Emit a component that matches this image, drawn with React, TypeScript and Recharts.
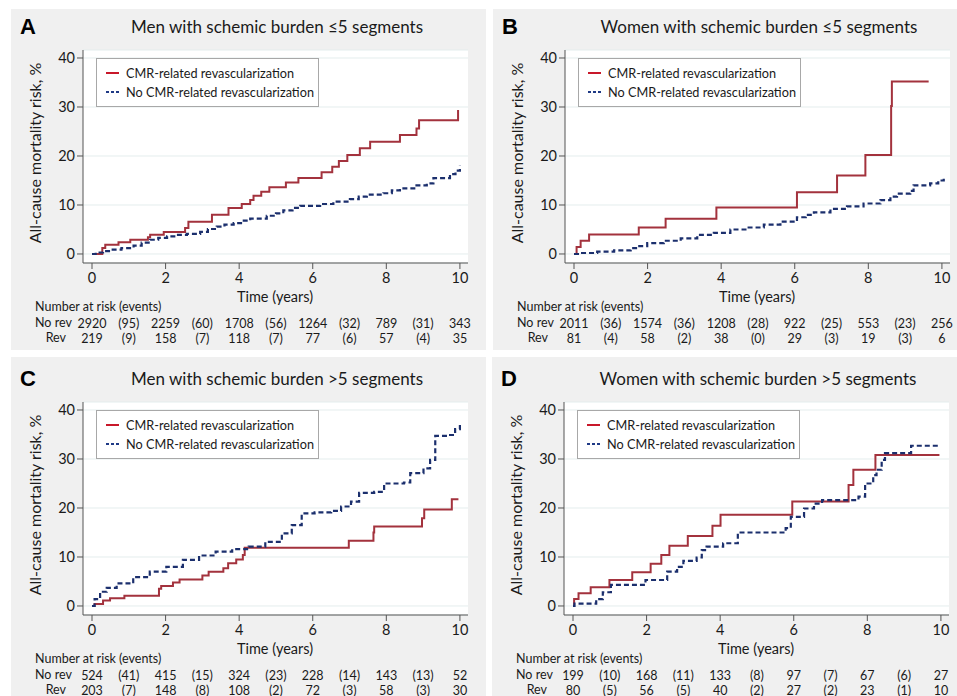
import React from 'react';
import { LineChart, Line, XAxis, YAxis, CartesianGrid, Legend } from 'recharts';

const FONT = 'Lato, "Open Sans", sans-serif';
const RED = '#a3323d';
const BLUE = '#1b2f6d';
const TEXT = '#1a1a1a';

// [years, cumulative mortality %]
const cmrA = [[0, 0], [0.28, 1.2], [0.36, 1.9], [0.72, 2.4], [1.04, 2.9], [1.52, 3.4], [1.58, 3.9], [1.95, 4.5], [2.53, 5.3], [2.62, 6.6], [3.26, 8.0], [3.71, 9.4], [4.07, 10.2], [4.3, 11.0], [4.39, 11.9], [4.6, 12.7], [4.82, 13.6], [5.27, 14.6], [5.61, 15.5], [6.24, 16.7], [6.53, 17.8], [6.71, 19.0], [6.94, 20.2], [7.28, 21.6], [7.56, 22.9], [8.37, 24.3], [8.82, 25.6], [8.89, 27.3], [9.95, 29.4]];
const noCmrA = [[0, 0], [0.1, 0.3], [0.3, 0.6], [0.5, 0.9], [0.8, 1.2], [1.13, 1.7], [1.35, 2.3], [1.58, 2.9], [1.8, 3.3], [2.04, 3.6], [2.3, 3.9], [2.58, 4.1], [2.94, 4.5], [3.15, 5.1], [3.39, 5.6], [3.6, 6.0], [3.85, 6.3], [4.05, 6.8], [4.3, 7.2], [4.75, 7.8], [5.0, 8.3], [5.2, 8.9], [5.45, 9.4], [5.66, 9.8], [6.2, 10.2], [6.56, 10.7], [7.01, 11.2], [7.25, 11.7], [7.47, 12.1], [7.92, 12.4], [8.15, 13.0], [8.37, 13.4], [8.82, 14.0], [9.1, 14.4], [9.28, 15.5], [9.73, 16.3], [9.88, 17.0], [10.0, 18.0]];
const noRevRiskA = [2920, 2259, 1708, 1264, 789, 343];
const noRevEventsA = [95, 60, 56, 32, 31];
const revRiskA = [219, 158, 118, 77, 57, 35];
const revEventsA = [9, 7, 7, 6, 4];

const cmrB = [[0, 0], [0.07, 1.4], [0.18, 2.7], [0.41, 4.0], [1.76, 5.4], [2.49, 7.2], [3.87, 9.5], [6.06, 12.6], [7.15, 16.0], [7.92, 20.2], [8.62, 30.2], [8.64, 35.2], [9.64, 35.2]];
const noCmrB = [[0, 0], [0.18, 0.2], [0.63, 0.5], [1.09, 0.75], [1.54, 1.2], [1.72, 1.6], [1.99, 2.2], [2.44, 2.7], [2.9, 3.2], [3.35, 3.9], [3.8, 4.3], [4.25, 5.0], [4.71, 5.4], [5.16, 6.0], [5.61, 6.6], [6.06, 7.5], [6.3, 8.0], [6.52, 8.5], [6.97, 9.2], [7.42, 9.7], [7.87, 10.3], [8.33, 11.0], [8.6, 11.7], [8.78, 12.3], [9.14, 12.9], [9.23, 14.0], [9.68, 14.4], [9.9, 15.0], [10.05, 15.5]];
const noRevRiskB = [2011, 1574, 1208, 922, 553, 256];
const noRevEventsB = [36, 36, 28, 25, 23];
const revRiskB = [81, 58, 38, 29, 19, 6];
const revEventsB = [4, 2, 0, 3, 3];

const cmrC = [[0, 0], [0.07, 0.4], [0.3, 1.1], [0.49, 1.6], [0.88, 2.1], [1.82, 3.5], [1.88, 4.1], [2.2, 4.8], [2.38, 5.4], [3.0, 6.2], [3.17, 7.0], [3.57, 7.7], [3.7, 8.7], [3.92, 9.5], [4.1, 10.4], [4.15, 11.9], [6.98, 13.3], [7.65, 15.0], [7.67, 16.2], [8.97, 17.9], [9.03, 19.7], [9.78, 21.8], [9.96, 21.8]];
const noCmrC = [[0, 0], [0.07, 1.4], [0.22, 2.9], [0.4, 3.7], [0.67, 4.6], [1.12, 5.9], [1.57, 7.0], [2.02, 8.0], [2.47, 9.4], [2.91, 10.3], [3.36, 11.1], [3.81, 11.6], [4.26, 12.1], [4.71, 13.1], [5.16, 14.8], [5.43, 16.5], [5.7, 18.9], [6.05, 19.1], [6.5, 19.4], [6.77, 20.3], [7.04, 21.3], [7.26, 23.1], [7.67, 23.3], [7.94, 25.0], [8.48, 25.2], [8.65, 27.1], [9.01, 28.1], [9.19, 29.8], [9.33, 34.7], [9.65, 34.9], [9.87, 36.1], [10.0, 37.3]];
const noRevRiskC = [524, 415, 324, 228, 143, 52];
const noRevEventsC = [41, 15, 23, 14, 13];
const revRiskC = [203, 148, 108, 72, 58, 30];
const revEventsC = [7, 8, 2, 3, 3];

const cmrD = [[0, 0], [0.03, 1.4], [0.15, 2.6], [0.48, 3.8], [0.99, 5.3], [1.61, 6.9], [2.11, 8.6], [2.4, 10.4], [2.62, 12.3], [3.12, 14.3], [3.79, 16.4], [4.01, 18.6], [5.96, 21.3], [7.49, 24.7], [7.62, 27.8], [8.22, 30.8], [9.96, 30.8]];
const noCmrD = [[0, 0], [0.04, 0.5], [0.63, 1.4], [0.81, 2.8], [1.03, 4.3], [1.97, 5.3], [2.56, 7.0], [2.83, 8.0], [3.0, 9.2], [3.36, 9.9], [3.5, 11.4], [3.63, 12.1], [4.08, 12.8], [4.48, 15.0], [5.78, 15.9], [5.92, 18.2], [6.28, 19.9], [6.55, 20.9], [6.77, 21.6], [7.76, 22.3], [7.94, 25.0], [8.16, 26.7], [8.25, 27.8], [8.39, 29.8], [8.48, 31.2], [9.19, 32.7], [9.96, 32.7]];
const noRevRiskD = [199, 168, 133, 97, 67, 27];
const noRevEventsD = [10, 11, 8, 7, 6];
const revRiskD = [80, 56, 40, 27, 23, 10];
const revEventsD = [5, 5, 2, 2, 1];

const xTicks = [0, 2, 4, 6, 8, 10];
const riskTicks = [0, 1, 2, 3, 4, 5, 6, 7, 8, 9, 10];
const yTicks = [0, 10, 20, 30, 40];

const toPts = (arr: number[][]) => arr.map(([t, v]) => ({ t, v }));

const riskLabel = (risk: number[], events: number[], t: number) =>
  t % 2 === 0 ? String(risk[t / 2]) : `(${events[(t - 1) / 2]})`;

const RiskTick = (props: any) => {
  const { x, y, payload, noRev, rev } = props;
  const t = payload.value;
  return (
    <g fontFamily={FONT} fontSize={12.5} fill={TEXT}>
      <text x={x} y={y + 14} textAnchor="middle" dominantBaseline="central">
        {riskLabel(noRev[0], noRev[1], t)}
      </text>
      <text x={x} y={y + 29} textAnchor="middle" dominantBaseline="central">
        {riskLabel(rev[0], rev[1], t)}
      </text>
    </g>
  );
};

const LegendBox = () => (
  <div
    style={{
      width: 223,
      height: 49,
      boxSizing: 'border-box',
      border: '1px solid #a8a8a8',
      background: '#fff',
      fontFamily: FONT,
      fontSize: 12.7,
      color: TEXT,
      position: 'relative',
    }}
  >
    {[
      { name: 'CMR-related revascularization', color: '#c8182a', dash: undefined },
      { name: 'No CMR-related revascularization', color: '#1f3a86', dash: '3 2' },
    ].map((item, i) => (
      <div key={item.name} style={{ position: 'absolute', left: 9, top: 5 + i * 19, height: 18, display: 'flex', alignItems: 'center', whiteSpace: 'nowrap' }}>
        <svg width={14} height={4} style={{ marginRight: 6 }}>
          <line x1={0} y1={2} x2={13} y2={2} stroke={item.color} strokeWidth={2} strokeDasharray={item.dash} />
        </svg>
        <span>{item.name}</span>
      </div>
    ))}
  </div>
);

interface PanelProps {
  letter: string;
  title: string;
  left: number;
  top: number;
  boxTop: number;
  boxHeight: number;
  cmr: number[][];
  noCmr: number[][];
  noRev: number[][];
  rev: number[][];
}

const Panel: React.FC<PanelProps> = ({ letter, title, left, top, boxTop, boxHeight, cmr, noCmr, noRev, rev }) => {
  const abs = (x: number, y: number): React.CSSProperties => ({ position: 'absolute', left: x, top: y, whiteSpace: 'nowrap', lineHeight: 1 });
  return (
    <>
      <div style={{ position: 'absolute', left, top: boxTop, width: 475, height: boxHeight, background: '#f0f0f0' }} />
      <div style={{ position: 'absolute', left, top, width: 475, height: 341 }}>
        <LineChart width={475} height={341} margin={{ top: 41, right: 18, left: 0, bottom: 1 }}>
          <CartesianGrid vertical={false} stroke="#e4eded" strokeWidth={1} fill="#fff" />
          <XAxis
            dataKey="t"
            type="number"
            domain={[-0.245, 10.22]}
            ticks={xTicks}
            height={46}
            tickSize={6}
            tickMargin={4}
            stroke="#555"
            tick={{ fill: TEXT, fontSize: 14.5, fontFamily: FONT }}
            allowDataOverflow
          />
          <XAxis
            xAxisId="risk"
            dataKey="t"
            type="number"
            domain={[-0.245, 10.22]}
            ticks={riskTicks}
            height={40}
            axisLine={false}
            tickLine={false}
            tickSize={0}
            tickMargin={0}
            interval={0}
            tick={(p: any) => <RiskTick {...p} noRev={noRev} rev={rev} />}
            allowDataOverflow
          />
          <YAxis
            type="number"
            domain={[-1.84, 41.63]}
            ticks={yTicks}
            width={72}
            tickSize={6}
            tickMargin={2}
            stroke="#555"
            tick={{ fill: TEXT, fontSize: 14.5, fontFamily: FONT }}
            allowDataOverflow
          />
          <Legend
            layout="vertical"
            align="center"
            verticalAlign="middle"
            content={() => <LegendBox />}
            wrapperStyle={{ position: 'absolute', left: 85, top: 49, width: 223, height: 49 }}
          />
          <Line data={toPts(cmr)} dataKey="v" type="stepAfter" stroke={RED} strokeWidth={2} dot={false} isAnimationActive={false} name="CMR-related revascularization" />
          <Line data={toPts(noCmr)} dataKey="v" type="stepAfter" stroke={BLUE} strokeWidth={2.2} strokeDasharray="5 3" dot={false} isAnimationActive={false} name="No CMR-related revascularization" />
        </LineChart>
        <div style={{ ...abs(9, 7), fontFamily: '"Liberation Sans", Arial, sans-serif', fontWeight: 700, fontSize: 22, color: '#000' }}>{letter}</div>
        <div style={{ ...abs(266, 9), transform: 'translateX(-50%)', fontFamily: FONT, fontSize: 17, color: TEXT }}>{title}</div>
        <div style={{ ...abs(24, 144), transform: 'translate(-50%, -50%) rotate(-90deg)', fontFamily: FONT, fontSize: 16, color: TEXT }}>All-cause mortality risk, %</div>
        <div style={{ ...abs(264, 281), transform: 'translateX(-50%)', fontFamily: FONT, fontSize: 14.5, color: TEXT }}>Time (years)</div>
        <div style={{ ...abs(24, 292), fontFamily: FONT, fontSize: 12.5, color: TEXT }}>Number at risk (events)</div>
        <div style={{ ...abs(24, 308), fontFamily: FONT, fontSize: 12.5, color: TEXT }}>No rev</div>
        <div style={{ ...abs(55, 323), transform: 'translateX(-100%)', fontFamily: FONT, fontSize: 12.5, color: TEXT }}>Rev</div>
      </div>
    </>
  );
};

export default function App() {
  return (
    <div style={{ position: 'absolute', left: 0, top: 0, width: 957, height: 696, overflow: 'hidden', background: '#fff' }}>
      <Panel letter="A" title="Men with schemic burden ≤5 segments" left={11} top={9} boxTop={9} boxHeight={341}
        cmr={cmrA} noCmr={noCmrA} noRev={[noRevRiskA, noRevEventsA]} rev={[revRiskA, revEventsA]} />
      <Panel letter="B" title="Women with schemic burden ≤5 segments" left={493} top={9} boxTop={9} boxHeight={341}
        cmr={cmrB} noCmr={noCmrB} noRev={[noRevRiskB, noRevEventsB]} rev={[revRiskB, revEventsB]} />
      <Panel letter="C" title="Men with schemic burden >5 segments" left={11} top={361} boxTop={357} boxHeight={339}
        cmr={cmrC} noCmr={noCmrC} noRev={[noRevRiskC, noRevEventsC]} rev={[revRiskC, revEventsC]} />
      <Panel letter="D" title="Women with schemic burden >5 segments" left={492} top={361} boxTop={357} boxHeight={339}
        cmr={cmrD} noCmr={noCmrD} noRev={[noRevRiskD, noRevEventsD]} rev={[revRiskD, revEventsD]} />
    </div>
  );
}
